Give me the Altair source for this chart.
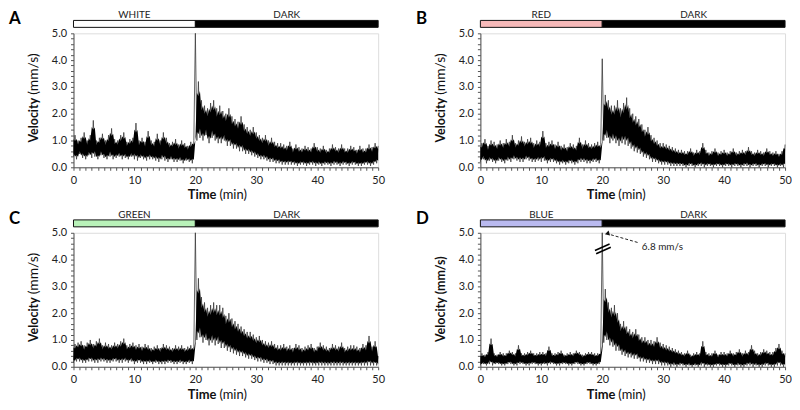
import altair as alt
import pandas as pd

# ---------------- data ----------------
panel_letters = ["A", "B", "C", "D"]
light_names = ["WHITE", "RED", "GREEN", "BLUE"]
light_colors = ["#ffffff", "#f6b9b9", "#b9f2b9", "#babaf0"]
dark_name = "DARK"
light_span = [0, 20]
dark_span = [20, 50]

x_ticks = list(range(0, 51))
y_ticks = [0.0, 0.2, 0.4, 0.6, 0.8, 1.0, 1.2, 1.4, 1.6, 1.8, 2.0, 2.2, 2.4, 2.6, 2.8,
           3.0, 3.2, 3.4, 3.6, 3.8, 4.0, 4.2, 4.4, 4.6, 4.8, 5.0]

vel_A = [
    0.4, 1.2, 0.3, 1.0,  0.5, 1.1, 0.35, 1.3,  0.3, 1.0, 0.45, 1.2,  0.35, 1.75, 0.4, 1.0,
    0.3, 1.1, 0.45, 1.25,  0.35, 1.0, 0.3, 1.2,  0.4, 1.45, 0.3, 1.05,  0.35, 1.0, 0.4, 1.2,
    0.3, 1.3, 0.35, 0.95,  0.3, 1.05, 0.4, 1.1,  0.3, 1.65, 0.25, 1.0,  0.35, 1.1, 0.3, 0.95,
    0.25, 1.35, 0.3, 1.0,  0.3, 0.95, 0.25, 1.25,  0.2, 1.0, 0.3, 1.3,  0.25, 1.1, 0.2, 0.9,
    0.3, 0.95, 0.2, 1.05,  0.2, 0.85, 0.25, 1.0,  0.15, 0.9, 0.25, 0.8,  0.2, 0.95, 0.15, 1.0,
    5.0, 1.0, 3.2, 1.1,  2.5, 1.0, 2.3, 1.2,  2.2, 0.9, 2.4, 1.1,  2.5, 1.0, 2.2, 0.9,
    2.3, 0.9, 2.1, 1.0,  2.0, 0.8, 2.2, 0.8,  1.9, 0.7, 1.8, 0.7,  1.7, 0.6, 1.9, 0.6,
    1.6, 0.5, 1.5, 0.5,  1.4, 0.45, 1.5, 0.4,  1.3, 0.35, 1.2, 0.3,  1.1, 0.3, 1.2, 0.25,
    1.0, 0.2, 1.1, 0.2,  0.95, 0.15, 0.9, 0.15,  0.9, 0.1, 0.85, 0.1,  0.8, 0.1, 0.95, 0.1,
    0.7, 0.1, 0.85, 0.05,  0.75, 0.1, 0.7, 0.1,  0.8, 0.05, 0.75, 0.1,  0.7, 0.1, 0.9, 0.05,
    0.75, 0.1, 0.7, 0.05,  0.8, 0.1, 0.65, 0.1,  0.7, 0.05, 0.85, 0.1,  0.75, 0.1, 0.7, 0.05,
    0.85, 0.1, 0.7, 0.1,  0.7, 0.05, 0.8, 0.1,  0.75, 0.1, 0.65, 0.05,  0.8, 0.05, 0.7, 0.1,
    0.7, 0.1, 0.85, 0.05,  0.75, 0.1, 0.9, 0.15,  0.8,
]
vel_B = [
    0.2, 0.9, 0.3, 1.05,  0.15, 0.8, 0.25, 1.0,  0.2, 0.95, 0.15, 0.85,  0.25, 1.0, 0.2, 0.9,
    0.15, 1.05, 0.25, 0.95,  0.2, 1.2, 0.3, 0.9,  0.25, 1.0, 0.2, 1.15,  0.2, 0.95, 0.3, 1.05,
    0.25, 1.1, 0.2, 0.9,  0.2, 1.0, 0.25, 0.95,  0.2, 1.35, 0.25, 0.9,  0.15, 0.95, 0.2, 1.0,
    0.2, 0.85, 0.15, 0.95,  0.1, 0.8, 0.15, 0.85,  0.1, 0.75, 0.15, 0.9,  0.15, 0.85, 0.1, 0.8,
    0.15, 1.1, 0.2, 0.85,  0.2, 1.0, 0.15, 0.9,  0.15, 0.85, 0.2, 0.9,  0.2, 0.95, 0.15, 0.85,
    4.05, 1.0, 2.7, 1.1,  2.5, 0.9, 2.3, 1.0,  2.3, 0.9, 2.5, 0.8,  2.2, 0.9, 2.4, 0.85,
    2.6, 0.8, 2.2, 0.7,  2.0, 0.6, 1.9, 0.55,  1.8, 0.5, 1.6, 0.4,  1.4, 0.35, 1.5, 0.3,
    1.2, 0.2, 1.1, 0.2,  1.0, 0.15, 0.9, 0.1,  0.9, 0.1, 0.85, 0.1,  0.8, 0.05, 0.75, 0.05,
    0.7, 0.05, 0.65, 0.05,  0.65, 0.05, 0.6, 0.0,  0.6, 0.05, 0.7, 0.05,  0.55, 0.0, 0.65, 0.05,
    0.6, 0.05, 0.9, 0.0,  0.65, 0.05, 0.55, 0.05,  0.6, 0.0, 0.7, 0.05,  0.55, 0.05, 0.6, 0.0,
    0.65, 0.05, 0.55, 0.05,  0.6, 0.0, 0.7, 0.05,  0.55, 0.05, 0.6, 0.0,  0.65, 0.05, 0.6, 0.05,
    0.75, 0.0, 0.6, 0.05,  0.55, 0.05, 0.65, 0.0,  0.6, 0.05, 0.55, 0.05,  0.7, 0.0, 0.6, 0.05,
    0.55, 0.05, 0.6, 0.0,  0.5, 0.05, 0.6, 0.0,  0.85,
]
vel_C = [
    0.15, 0.85, 0.2, 0.9,  0.2, 0.95, 0.15, 0.8,  0.15, 0.9, 0.2, 1.0,  0.2, 0.85, 0.15, 0.95,
    0.15, 1.05, 0.2, 0.8,  0.2, 0.9, 0.15, 0.85,  0.15, 0.8, 0.2, 0.9,  0.2, 0.85, 0.15, 0.95,
    0.15, 1.05, 0.2, 0.8,  0.15, 0.85, 0.2, 0.9,  0.1, 0.8, 0.15, 0.85,  0.15, 0.75, 0.1, 0.85,
    0.1, 0.8, 0.15, 0.7,  0.1, 0.75, 0.15, 0.8,  0.1, 0.7, 0.1, 0.85,  0.1, 0.8, 0.15, 0.75,
    0.15, 0.7, 0.1, 0.8,  0.1, 0.75, 0.15, 0.8,  0.1, 0.7, 0.1, 0.75,  0.15, 0.8, 0.1, 0.75,
    5.0, 1.0, 3.3, 1.1,  2.6, 0.9, 2.4, 1.0,  2.2, 0.8, 2.3, 0.9,  2.4, 0.8, 2.3, 0.85,
    2.3, 0.7, 2.2, 0.7,  1.9, 0.6, 2.0, 0.55,  1.8, 0.5, 1.7, 0.45,  1.6, 0.4, 1.5, 0.4,
    1.4, 0.35, 1.3, 0.3,  1.3, 0.3, 1.2, 0.25,  1.1, 0.2, 1.15, 0.2,  1.0, 0.15, 0.95, 0.15,
    0.9, 0.1, 0.95, 0.1,  0.85, 0.05, 0.8, 0.05,  0.8, 0.05, 0.85, 0.05,  0.75, 0.05, 0.8, 0.05,
    0.7, 0.05, 0.85, 0.05,  0.8, 0.05, 0.7, 0.05,  0.75, 0.05, 0.8, 0.05,  0.85, 0.05, 0.7, 0.05,
    0.75, 0.05, 0.9, 0.05,  0.8, 0.05, 0.75, 0.05,  0.7, 0.05, 0.85, 0.05,  0.8, 0.05, 0.75, 0.05,
    0.9, 0.05, 0.7, 0.05,  0.75, 0.05, 0.8, 0.05,  0.8, 0.05, 0.75, 0.05,  0.7, 0.05, 0.85, 0.05,
    0.8, 0.05, 1.15, 0.05,  0.75, 0.05, 0.95, 0.05,  0.4,
]
vel_D = [
    0.05, 0.5, 0.1, 0.45,  0.05, 0.55, 0.1, 1.05,  0.05, 0.5, 0.1, 0.45,  0.1, 0.55, 0.05, 0.5,
    0.05, 0.5, 0.1, 0.6,  0.1, 0.55, 0.05, 0.5,  0.05, 0.8, 0.1, 0.5,  0.1, 0.5, 0.05, 0.55,
    0.05, 0.6, 0.1, 0.5,  0.1, 0.5, 0.05, 0.55,  0.05, 0.55, 0.1, 0.5,  0.05, 0.75, 0.1, 0.5,
    0.1, 0.5, 0.05, 0.55,  0.05, 0.6, 0.1, 0.45,  0.1, 0.5, 0.05, 0.55,  0.05, 0.5, 0.1, 0.6,
    0.1, 0.55, 0.05, 0.45,  0.05, 0.5, 0.1, 0.55,  0.1, 0.55, 0.05, 0.5,  0.05, 0.5, 0.1, 0.55,
    6.8, 0.9, 2.9, 1.0,  2.4, 0.8, 2.2, 0.75,  2.3, 0.6, 2.0, 0.6,  1.6, 0.45, 1.7, 0.4,
    1.5, 0.35, 1.4, 0.35,  1.3, 0.3, 1.4, 0.3,  1.2, 0.2, 1.1, 0.2,  1.1, 0.15, 1.0, 0.15,
    1.0, 0.1, 0.95, 0.1,  1.1, 0.1, 0.9, 0.05,  0.85, 0.05, 0.8, 0.05,  0.75, 0.0, 0.7, 0.05,
    0.65, 0.0, 0.6, 0.05,  0.55, 0.05, 0.5, 0.0,  0.6, 0.05, 0.45, 0.0,  0.5, 0.05, 0.55, 0.0,
    0.5, 0.05, 0.95, 0.0,  0.55, 0.05, 0.5, 0.0,  0.5, 0.0, 0.6, 0.05,  0.45, 0.05, 0.55, 0.0,
    0.55, 0.0, 0.5, 0.05,  0.6, 0.05, 0.5, 0.0,  0.55, 0.05, 0.65, 0.0,  0.5, 0.0, 0.6, 0.05,
    0.55, 0.05, 0.8, 0.0,  0.6, 0.05, 0.5, 0.0,  0.55, 0.0, 0.65, 0.05,  0.6, 0.05, 0.55, 0.0,
    0.55, 0.0, 0.7, 0.05,  0.85, 0.05, 0.6, 0.0,  0.5,
]
series = [vel_A, vel_B, vel_C, vel_D]
sample_step = 0.25

peak_label = "6.8 mm/s"

FONT = "Lato"
W, H = 307, 135

x_axis = alt.Axis(
    values=x_ticks, labelExpr="datum.value % 10 == 0 ? format(datum.value, 'd') : ''",
    title=None, grid=False, tickSize=3, labelPadding=4, labelFontSize=11,
    labelColor="#222", domainColor="#555", tickColor="#555", labelFont=FONT,
    labelOverlap=False, labelFlush=False,
)
y_axis = alt.Axis(
    values=y_ticks,
    labelExpr="abs(datum.value - round(datum.value)) < 0.001 ? format(datum.value, '.1f') : ''",
    title=None, grid=False, tickSize=3, labelPadding=4, labelFontSize=11,
    labelColor="#222", domainColor="#555", tickColor="#555", labelFont=FONT,
    labelOverlap=False,
)
XS = alt.Scale(domain=[0, 50], nice=False, zero=False)
YS = alt.Scale(domain=[0, 5], nice=False, clamp=True)


def X(field):
    return alt.X(field, scale=XS, axis=x_axis)


def Y(field):
    return alt.Y(field, scale=YS, axis=y_axis)


def panel(idx, right_col):
    vals = series[idx]
    df = pd.DataFrame({"t": [i * sample_step for i in range(len(vals))], "v": vals})

    # dense core of the noisy trace (inner part of the local envelope);
    # the outer fringe and isolated transient peaks come from the thin trace line
    core = alt.Chart(df).transform_calculate(
        vc="datum.v > 3.5 ? null : datum.v"
    ).transform_window(
        lo="min(vc)", hi="max(vc)", mid="mean(vc)", frame=[-1, 1], sort=[alt.SortField("t")]
    ).transform_calculate(
        top="datum.mid + 0.62 * (datum.hi - datum.mid)",
        bot="datum.mid - 0.7 * (datum.mid - datum.lo)",
    ).mark_area(color="black", opacity=1, interpolate="linear").encode(
        x=X("t:Q"), y=Y("bot:Q"), y2="top:Q",
    )
    line = alt.Chart(df).mark_line(color="#3a3a3a", strokeWidth=0.8).encode(
        x=X("t:Q"), y=Y("v:Q"),
    )

    bars = pd.DataFrame({
        "t": [light_span[0], dark_span[0]],
        "t2": [light_span[1], dark_span[1]],
        "mid": [(light_span[0] + light_span[1]) / 2, (dark_span[0] + dark_span[1]) / 2],
        "label": [light_names[idx], dark_name],
        "fill": [light_colors[idx], "#000000"],
    })
    bar = alt.Chart(bars).mark_rect(stroke="#111", strokeWidth=1).encode(
        x=X("t:Q"), x2="t2:Q",
        y=alt.value(-13), y2=alt.value(-6),
        fill=alt.Fill("fill:N", scale=None),
    )
    bar_text = alt.Chart(bars).mark_text(
        font=FONT, fontSize=10, color="#222", baseline="alphabetic", align="center"
    ).encode(x=X("mid:Q"), y=alt.value(-15), text="label:N")

    one = pd.DataFrame({"letter": [panel_letters[idx]]})
    letter = alt.Chart(one).mark_text(
        font=FONT, fontSize=17, fontWeight="bold", color="#000", align="left", baseline="alphabetic"
    ).encode(x=alt.value(-65), y=alt.value(-9), text="letter:N")

    all_bold = idx == 3
    ytitle1 = alt.Chart(one).mark_text(
        font=FONT, fontSize=12.5, fontWeight="bold", angle=270, align="right", baseline="middle", color="#111"
    ).encode(x=alt.value(-40), y=alt.value(65), text=alt.value("Velocity"))
    ytitle2 = alt.Chart(one).mark_text(
        font=FONT, fontSize=12.5 if all_bold else 14, fontWeight="bold" if all_bold else "normal", angle=270,
        align="left", baseline="middle", color="#111"
    ).encode(x=alt.value(-40), y=alt.value(62), text=alt.value("(mm/s)"))

    jx = 136 if right_col else 144
    xtitle1 = alt.Chart(one).mark_text(
        font=FONT, fontSize=13, fontWeight="bold", align="right", baseline="alphabetic", color="#111"
    ).encode(x=alt.value(jx), y=alt.value(H + 32), text=alt.value("Time"))
    xtitle2 = alt.Chart(one).mark_text(
        font=FONT, fontSize=13, fontWeight="normal", align="left", baseline="alphabetic", color="#111"
    ).encode(x=alt.value(jx + 3), y=alt.value(H + 32), text=alt.value("(min)"))

    layers = [line, core, bar, bar_text, letter, ytitle1, ytitle2, xtitle1, xtitle2]

    if idx == 3:
        brk = pd.DataFrame({"t": [18.8, 19.0], "v": [4.34, 4.22], "t2": [21.2, 21.4], "v2": [4.58, 4.46]})
        brk_marks = alt.Chart(brk).mark_rule(color="black", strokeWidth=1.6).encode(
            x=X("t:Q"), y=Y("v:Q"), x2="t2:Q", y2="v2:Q",
        )
        arr = pd.DataFrame({"t": [25.8], "v": [4.64], "t2": [20.9], "v2": [4.96]})
        arrow = alt.Chart(arr).mark_rule(color="#222", strokeWidth=1, strokeDash=[3, 2]).encode(
            x=X("t:Q"), y=Y("v:Q"), x2="t2:Q", y2="v2:Q",
        )
        head = alt.Chart(pd.DataFrame({"t": [20.8], "v": [4.97]})).mark_point(
            shape="triangle-left", filled=True, color="#111", size=28, angle=345, opacity=1
        ).encode(x=X("t:Q"), y=Y("v:Q"))
        lab = alt.Chart(pd.DataFrame({"t": [26.5], "v": [4.37], "s": [peak_label]})).mark_text(
            font=FONT, fontSize=10, color="#222", align="left", baseline="alphabetic"
        ).encode(x=X("t:Q"), y=Y("v:Q"), text="s:N")
        layers += [brk_marks, arrow, head, lab]

    return alt.layer(*layers).properties(width=W, height=H)


top = alt.hconcat(panel(0, False), panel(1, True), spacing=30)
bottom = alt.hconcat(panel(2, False), panel(3, True), spacing=30)
chart = alt.vconcat(top, bottom, spacing=6).properties(padding=0).configure_view(
    stroke=None
).configure(font=FONT, background="white")

chart.save("out.html", embed_options={"renderer": "svg", "actions": False})
